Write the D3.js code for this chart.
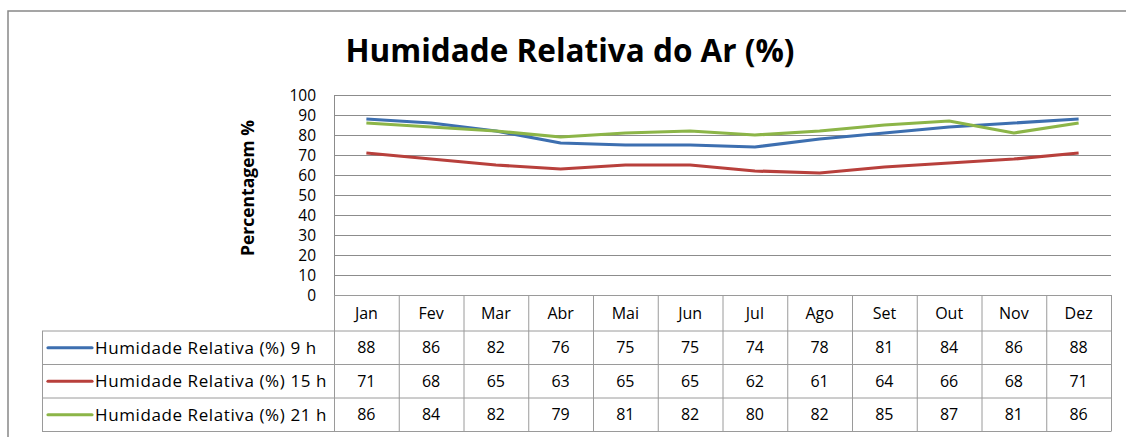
<!DOCTYPE html>
<html><head><meta charset="utf-8">
<script src="https://cdn.jsdelivr.net/npm/d3@7/dist/d3.min.js"></script>
<style>body{margin:0;background:#fff}svg{display:block}text{font-family:"Open Sans",sans-serif}</style>
</head><body><svg id="c" width="1126" height="437"></svg>
<script>
const months = ["Jan","Fev","Mar","Abr","Mai","Jun","Jul","Ago","Set","Out","Nov","Dez"];
const h9  = [88,86,82,76,75,75,74,78,81,84,86,88];
const h15 = [71,68,65,63,65,65,62,61,64,66,68,71];
const h21 = [86,84,82,79,81,82,80,82,85,87,81,86];
const seriesNames = ["Humidade Relativa (%) 9 h","Humidade Relativa (%) 15 h","Humidade Relativa (%) 21 h"];
const seriesColors = ["#3d6fb0","#b8403c","#8cb548"];
const yTicks = [0,10,20,30,40,50,60,70,80,90,100];
const title = "Humidade Relativa do Ar (%)";
const yTitle = "Percentagem %";

const series = [h9,h15,h21].map((v,i)=>({name:seriesNames[i],color:seriesColors[i],values:v}));
const svg = d3.select("#c");
const L=334,R=1111,T=95,B=295;
const x = d3.scaleBand().domain(months).range([L,R]);
const y = d3.scaleLinear().domain([0,100]).range([B,T]);
const rowTop=[295,331,364.5,398,431.5];

// outer frame
svg.append("rect").attr("x",8).attr("y",11).attr("width",1140).attr("height",460)
  .attr("fill","none").attr("stroke","#888").attr("stroke-width",1.5);

// title
svg.append("text").attr("x",570).attr("y",62).attr("text-anchor","middle")
  .attr("font-size",31.5).attr("font-weight","bold").attr("fill","#000").text(title);

// gridlines
svg.append("g").selectAll("line").data(yTicks).join("line")
  .attr("x1",L).attr("x2",R).attr("y1",d=>y(d)+0.5).attr("y2",d=>y(d)+0.5)
  .attr("stroke","#8c8c8c").attr("stroke-width",1);
svg.append("line").attr("x1",L+0.5).attr("x2",L+0.5).attr("y1",T).attr("y2",B)
  .attr("stroke","#8c8c8c");

// y axis labels
const ya = svg.append("g").attr("transform",`translate(${L-18},0)`)
  .call(d3.axisLeft(y).tickValues(yTicks).tickSize(0).tickPadding(0));
ya.select(".domain").remove();
ya.selectAll("text").attr("font-size",15.5).attr("fill","#000").attr("font-family","Lato,sans-serif").attr("dy","0.35em");

svg.append("text").attr("transform","translate(254,188) rotate(-90)").attr("text-anchor","middle")
  .attr("font-size",17.5).attr("font-weight","bold").text(yTitle);

// lines
const line = d3.line().x((d,i)=>x(months[i])+x.bandwidth()/2).y(d=>y(d));
svg.append("g").selectAll("path").data(series).join("path")
  .attr("d",d=>line(d.values)).attr("fill","none").attr("stroke",d=>d.color)
  .attr("stroke-width",3.2).attr("stroke-linejoin","round");

// data table
const tg = svg.append("g");
const gc="#9a9a9a";
tg.append("line").attr("x1",L).attr("x2",R).attr("y1",rowTop[0]+0.5).attr("y2",rowTop[0]+0.5).attr("stroke",gc);
rowTop.slice(1).forEach(yy=>tg.append("line").attr("x1",42).attr("x2",R).attr("y1",yy).attr("y2",yy).attr("stroke",gc));
tg.append("line").attr("x1",42.5).attr("x2",42.5).attr("y1",rowTop[1]).attr("y2",rowTop[4]).attr("stroke",gc);
months.forEach(m=>tg.append("line").attr("x1",x(m)+0.5).attr("x2",x(m)+0.5).attr("y1",rowTop[0]).attr("y2",rowTop[4]).attr("stroke",gc));
tg.append("line").attr("x1",R+0.5).attr("x2",R+0.5).attr("y1",rowTop[0]).attr("y2",rowTop[4]).attr("stroke",gc);

tg.selectAll("text.m").data(months).join("text").attr("class","m")
  .attr("x",d=>x(d)+x.bandwidth()/2).attr("y",(rowTop[0]+rowTop[1])/2).attr("dy","0.35em")
  .attr("text-anchor","middle").attr("font-size",16).text(d=>d);

series.forEach((s,i)=>{
  const cy=(rowTop[i+1]+rowTop[i+2])/2;
  tg.append("line").attr("x1",48).attr("x2",92).attr("y1",cy).attr("y2",cy)
    .attr("stroke",s.color).attr("stroke-width",3.2).attr("stroke-linecap","round");
  tg.append("text").attr("x",95).attr("y",cy).attr("dy","0.35em").attr("font-size",17)
    .attr("letter-spacing",0.6).text(s.name);
  tg.selectAll(null).data(s.values).join("text")
    .attr("x",(d,j)=>x(months[j])+x.bandwidth()/2).attr("y",cy).attr("dy","0.35em")
    .attr("text-anchor","middle").attr("font-size",16).text(d=>d);
});
</script></body></html>
